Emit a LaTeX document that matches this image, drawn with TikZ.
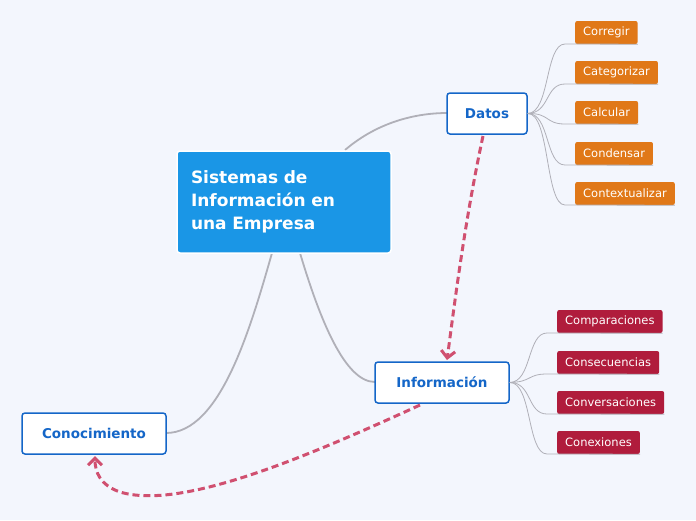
\documentclass[tikz,border=0pt]{standalone}
\usepackage{fontspec}
\setmainfont{DejaVu Sans}
\usetikzlibrary{arrows.meta}
\definecolor{bg}{HTML}{F3F6FD}
\definecolor{cblue}{HTML}{1A96E6}
\definecolor{tblue}{HTML}{1466C8}
\definecolor{orng}{HTML}{E07818}
\definecolor{redn}{HTML}{B01C3C}
\definecolor{dash}{HTML}{D05070}
\definecolor{lgray}{HTML}{B0B0B8}
\tikzset{
 main/.style={fill=cblue,draw=white,line width=1.5pt,rounded corners=3pt,text=white,font=\bfseries\fontsize{17}{23}\selectfont,align=left,minimum width=214pt,minimum height=102pt,text width=186pt},
 sub/.style={fill=white,draw=tblue,line width=1.5pt,rounded corners=3pt,text=tblue,font=\bfseries\fontsize{13.5}{16}\selectfont,minimum height=41pt},
 leafo/.style={fill=orng,rounded corners=2pt,text=white,font=\fontsize{11.5}{13}\selectfont,minimum height=23pt,inner xsep=8pt,anchor=west},
 leafr/.style={fill=redn,rounded corners=2pt,text=white,font=\fontsize{11.5}{13}\selectfont,minimum height=23pt,inner xsep=8pt,anchor=west},
 conn/.style={draw=lgray,line width=0.8pt},
 trunk/.style={draw=lgray,line width=1.8pt},
 rel/.style={draw=dash,line width=3pt,dashed,dash pattern=on 7pt off 4pt,-{Straight Barb[length=7pt,width=14pt,line width=3pt]}}
}
\begin{document}
\begin{tikzpicture}[x=1pt,y=-1pt]
\fill[bg] (0,0) rectangle (696,520);
\useasboundingbox (0,0) rectangle (696,520);
\draw[trunk] (345,150) .. controls (380,120) and (420,113) .. (447,113);
\draw[trunk] (300,253) .. controls (320,320) and (345,382) .. (375,382);
\draw[trunk] (272,253) .. controls (250,330) and (220,433) .. (166,433);
\node[main] (c) at (284,202) {Sistemas de\\Información en\\una Empresa};
\node[sub,minimum width=80pt] (d) at (487,113.5) {Datos};
\node[sub,minimum width=134pt] (i) at (442,382.5) {Información};
\node[sub,minimum width=144pt] (k) at (94,433.5) {Conocimiento};
\foreach \n/\t/\y in {o1/Corregir/32.5,o2/Categorizar/72.5,o3/Calcular/112.5,o4/Condensar/153.5,o5/Contextualizar/193.5}{
 \node[leafo] (\n) at (575,\y) {\t};
 \draw[conn] (d.east) .. controls (550,113) and (545,\y+11.5) .. (565,\y+11.5) -- (\n.south east);
}
\foreach \n/\t/\y in {r1/Comparaciones/321.5,r2/Consecuencias/362.5,r3/Conversaciones/402.5,r4/Conexiones/442.5}{
 \node[leafr] (\n) at (557,\y) {\t};
 \draw[conn] (i.east) .. controls (532,382) and (527,\y+11.5) .. (547,\y+11.5) -- (\n.south east);
}
\draw[rel] (483,136) .. controls (465,220) and (455,300) .. (447,360);
\draw[rel] (420,405) .. controls (300,460) and (180,510) .. (120,492) .. controls (100,485) and (95,472) .. (95,456);
\end{tikzpicture}
\end{document}
